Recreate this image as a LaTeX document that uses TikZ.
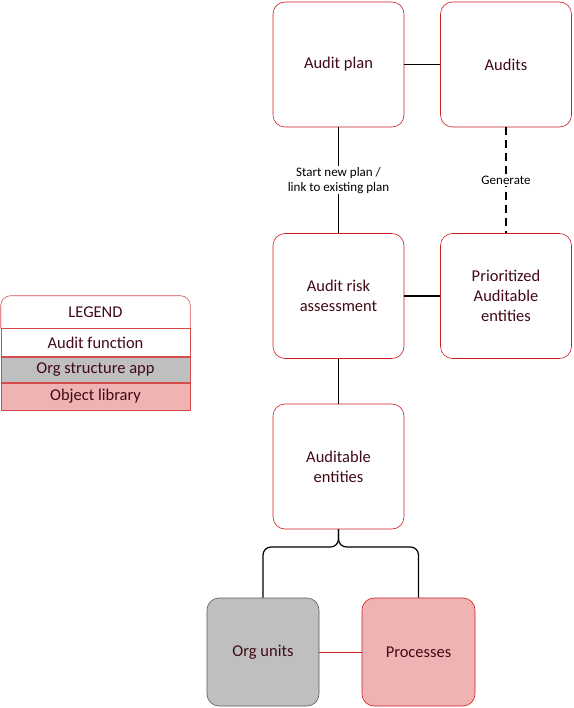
\documentclass[tikz,border=0pt]{standalone}
\usepackage{fontspec}
\setmainfont{Carlito}
\definecolor{boxred}{HTML}{CC1F1F}
\definecolor{legred}{HTML}{D84A4A}
\definecolor{txt}{HTML}{400A16}
\definecolor{orggray}{HTML}{BFBFBF}
\definecolor{orgline}{HTML}{595959}
\definecolor{libpink}{HTML}{EFB3B3}
\begin{document}
\begin{tikzpicture}[x=1pt, y=-1pt,
    fn/.style={draw=boxred, semithick, fill=white, rounded corners=12pt, minimum width=131pt, minimum height=125pt, align=center, text=txt, font=\fontsize{16.5}{20}\selectfont},
    org/.style={fn, draw=orgline, fill=orggray, minimum width=112pt, minimum height=108pt},
    lib/.style={fn, fill=libpink, minimum width=113pt, minimum height=108pt},
    lrow/.style={draw=legred, semithick, minimum width=189pt, inner sep=0pt, text=txt, font=\fontsize{16.5}{18}\selectfont},
    conn/.style={draw=black, line width=1.2pt},
    lab/.style={fill=white, align=center, inner sep=1pt, font=\fontsize{13}{15}\selectfont}]
    \useasboundingbox (0,0) rectangle (573,708);

    % main boxes
    \node[fn] (ap) at (338.5,64.5) {Audit plan};
    \node[fn] (au) at (506,64.5) {Audits};
    \node[fn] (ra) at (338.5,296) {Audit risk\\assessment};
    \node[fn] (pe) at (506,296) {Prioritized\\Auditable\\entities};
    \node[fn] (ae) at (338.5,466.5) {Auditable\\entities};
    \node[org] (ou) at (263,652) {Org units};
    \node[lib] (pr) at (418.5,652) {Processes};

    % connectors
    \draw[conn] (ap) -- (au);
    \draw[conn] (ra) -- (pe);
    \draw[conn] (ra) -- (ae);
    \draw[conn] (ap) -- node[lab] {Start new plan /\\link to existing plan} (ra);
    \draw[conn, dash pattern=on 8pt off 5pt] (au) -- node[lab] {Generate} (pe);
    \draw[draw=boxred, semithick] (ou) -- (pr);
    \coordinate (br) at (338.5,547);
    \draw[conn, rounded corners=8pt] (ae.south) -- (br) -| (ou.north);
    \draw[conn, rounded corners=8pt] (ae.south) -- (br) -| (pr.north);

    % legend
    \node[lrow, draw=none, minimum height=32pt] (lgt) at (95.5,312) {LEGEND};
    \draw[legred, semithick, rounded corners=10pt] (lgt.south west) -- (lgt.north west) -- (lgt.north east) -- (lgt.south east);
    \node[lrow, fill=white, minimum height=28pt, anchor=north] (lg1) at (lgt.south) {Audit function};
    \node[lrow, fill=orggray, minimum height=25pt, anchor=north] (lg2) at (lg1.south) {Org structure app};
    \node[lrow, fill=libpink, minimum height=27pt, anchor=north] (lg3) at (lg2.south) {Object library};
\end{tikzpicture}
\end{document}
